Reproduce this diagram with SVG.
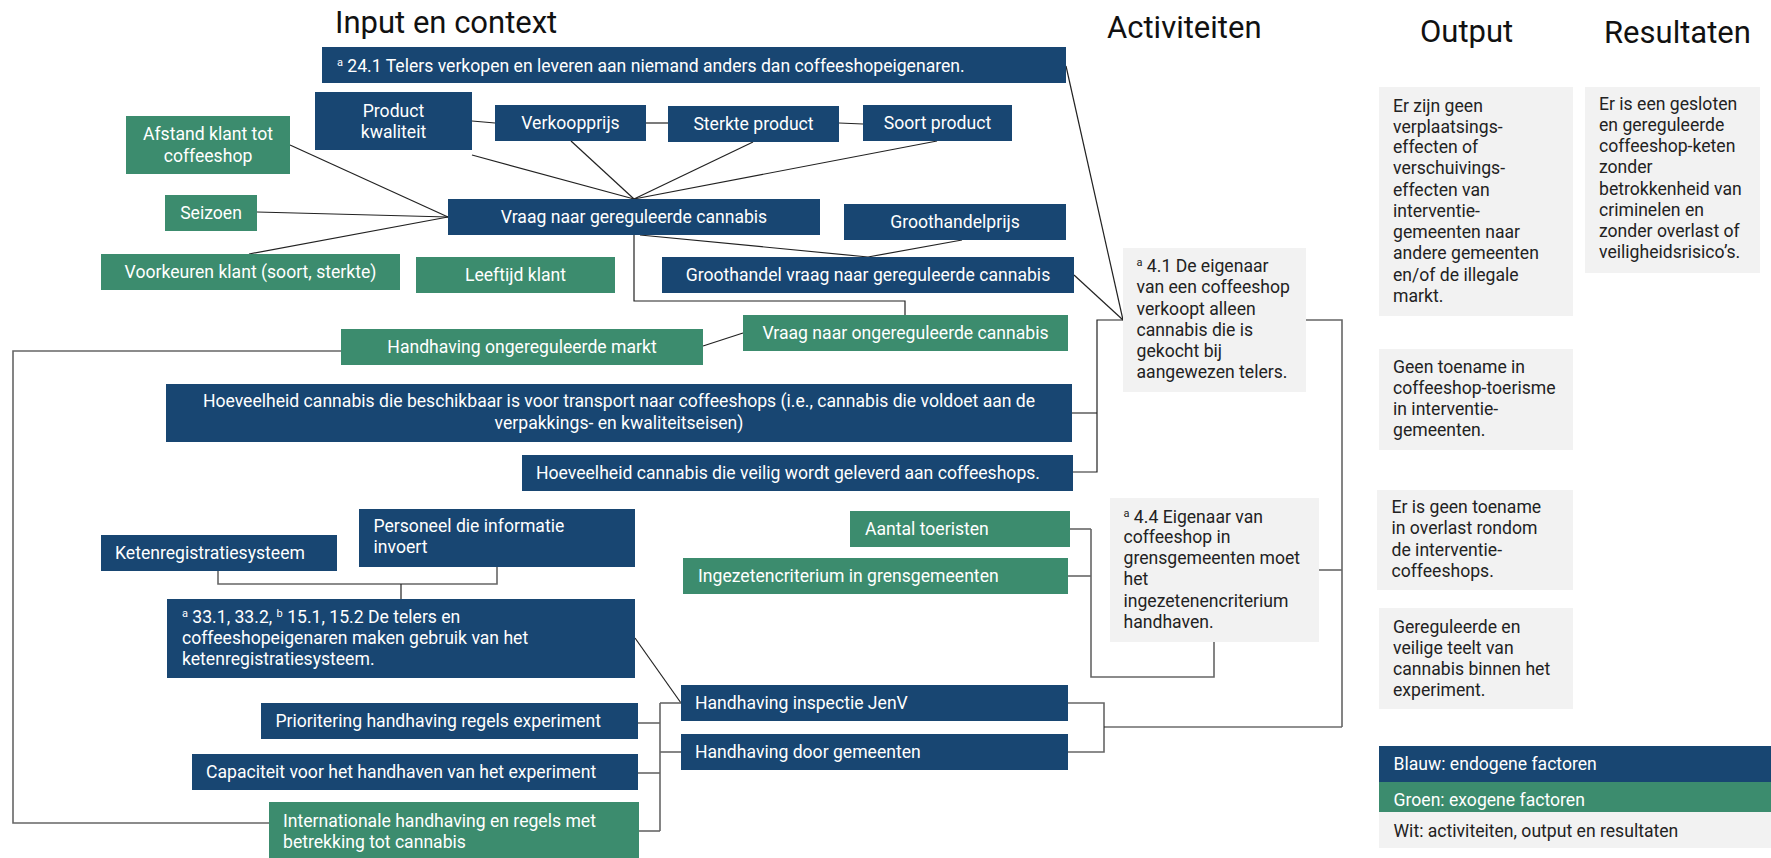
<svg xmlns="http://www.w3.org/2000/svg" width="1771" height="858" viewBox="0 0 1771 858">
<style>
text{font-family:Roboto,"Liberation Sans",Arial,sans-serif;font-size:17.6px}
.t{font-size:31px;fill:#111}
.b{fill:#184672}
.g{fill:#3c8c6e}
.w{fill:#f2f2f2}
.lt{fill:#fff}
.dk{fill:#222}
.c{text-anchor:middle}
.sup{font-size:11px}
.ln{fill:none;stroke:#222;stroke-width:1.2}
.br{fill:none;stroke:#666;stroke-width:1.6}
</style>
<rect width="1771" height="858" fill="#fff"/>
<g id="titles">
<text class="t" x="335" y="33">Input en context</text>
<text class="t" x="1107" y="38">Activiteiten</text>
<text class="t" x="1420" y="42">Output</text>
<text class="t" x="1604" y="43">Resultaten</text>
</g>
<g id="connectors">
<line class="ln" x1="472" y1="121" x2="495" y2="123"/>
<line class="ln" x1="646" y1="123" x2="668" y2="123"/>
<line class="ln" x1="839" y1="123" x2="863" y2="124"/>
<line class="ln" x1="472" y1="155" x2="634" y2="199"/>
<line class="ln" x1="571" y1="141" x2="634" y2="199"/>
<line class="ln" x1="753" y1="142" x2="634" y2="199"/>
<line class="ln" x1="937" y1="141" x2="634" y2="199"/>
<line class="ln" x1="290" y1="145" x2="448" y2="217"/>
<line class="ln" x1="257" y1="212" x2="448" y2="217"/>
<line class="ln" x1="249" y1="254" x2="448" y2="217"/>
<line class="ln" x1="640" y1="235" x2="868" y2="257"/>
<line class="ln" x1="962" y1="240" x2="868" y2="257"/>
<polyline class="ln" points="634,235 634,301 905,301 905,315"/>
<line class="ln" x1="703" y1="346" x2="743" y2="333"/>
<line class="ln" x1="1066" y1="66" x2="1123" y2="320"/>
<line class="ln" x1="1074" y1="275" x2="1123" y2="320"/>
<line class="ln" x1="635" y1="638" x2="681" y2="703"/>
<polyline class="br" points="341,351 13,351 13,823 269,823"/>
<polyline class="br" points="1072,413 1097,413"/>
<polyline class="ln" points="1073,472 1097,472 1097,320 1123,320"/>
<polyline class="br" points="218,571 218,584 497,584 497,567"/>
<line class="ln" x1="401" y1="584" x2="401" y2="599"/>
<line class="br" x1="660" y1="703" x2="660" y2="831"/>
<line class="br" x1="638" y1="723" x2="660" y2="723"/>
<line class="br" x1="638" y1="773" x2="660" y2="773"/>
<line class="br" x1="639" y1="831" x2="660" y2="831"/>
<line class="br" x1="660" y1="703" x2="681" y2="703"/>
<line class="br" x1="660" y1="752" x2="681" y2="752"/>
<polyline class="br" points="1068,703 1104,703 1104,752 1068,752"/>
<line class="ln" x1="1104" y1="727" x2="1342" y2="727"/>
<line class="br" x1="1070" y1="529" x2="1091" y2="529"/>
<line class="br" x1="1068" y1="576" x2="1091" y2="576"/>
<polyline class="br" points="1091,529 1091,677 1214,677 1214,642"/>
<polyline class="br" points="1306,320 1342,320 1342,727"/>
<line class="br" x1="1319" y1="570" x2="1342" y2="570"/>
</g>
<g id="n241"><rect class="b" x="322" y="47" width="744" height="36"/><text class="lt" x="337" y="72"><tspan class="sup" dy="-6">a</tspan><tspan dy="6"> 24.1 Telers verkopen en leveren aan niemand anders dan coffeeshopeigenaren.</tspan></text></g>
<g id="productkwaliteit"><rect class="b" x="315" y="92" width="157" height="58"/><text class="lt c" x="393.5" y="117">Product</text><text class="lt c" x="393.5" y="138">kwaliteit</text></g>
<g id="verkoopprijs"><rect class="b" x="495" y="105" width="151" height="36"/><text class="lt c" x="570.5" y="129">Verkoopprijs</text></g>
<g id="sterkte"><rect class="b" x="668" y="106" width="171" height="36"/><text class="lt c" x="753.5" y="130">Sterkte product</text></g>
<g id="soort"><rect class="b" x="863" y="105" width="149" height="36"/><text class="lt c" x="937.5" y="129">Soort product</text></g>
<g id="afstand"><rect class="g" x="126" y="116" width="164" height="58"/><text class="lt c" x="208" y="140">Afstand klant tot</text><text class="lt c" x="208" y="162">coffeeshop</text></g>
<g id="seizoen"><rect class="g" x="165" y="195" width="92" height="36"/><text class="lt c" x="211" y="219">Seizoen</text></g>
<g id="vraag"><rect class="b" x="448" y="199" width="372" height="36"/><text class="lt c" x="634" y="223">Vraag naar gereguleerde cannabis</text></g>
<g id="groothandelprijs"><rect class="b" x="844" y="204" width="222" height="36"/><text class="lt c" x="955" y="228">Groothandelprijs</text></g>
<g id="voorkeuren"><rect class="g" x="101" y="254" width="299" height="36"/><text class="lt c" x="250.5" y="278">Voorkeuren klant (soort, sterkte)</text></g>
<g id="leeftijd"><rect class="g" x="416" y="257" width="199" height="36"/><text class="lt c" x="515.5" y="281">Leeftijd klant</text></g>
<g id="groothandelvraag"><rect class="b" x="662" y="257" width="412" height="36"/><text class="lt c" x="868" y="281">Groothandel vraag naar gereguleerde cannabis</text></g>
<g id="vraagongereg"><rect class="g" x="743" y="315" width="325" height="36"/><text class="lt c" x="905.5" y="339">Vraag naar ongereguleerde cannabis</text></g>
<g id="handhavingongereg"><rect class="g" x="341" y="329" width="362" height="36"/><text class="lt c" x="522" y="353">Handhaving ongereguleerde markt</text></g>
<g id="beschikbaar"><rect class="b" x="166" y="384" width="906" height="58"/><text class="lt c" x="619" y="407">Hoeveelheid cannabis die beschikbaar is voor transport naar coffeeshops (i.e., cannabis die voldoet aan de</text><text class="lt c" x="619" y="429">verpakkings- en kwaliteitseisen)</text></g>
<g id="veilig"><rect class="b" x="522" y="455" width="551" height="36"/><text class="lt" x="536" y="479">Hoeveelheid cannabis die veilig wordt geleverd aan coffeeshops.</text></g>
<g id="personeel"><rect class="b" x="359" y="509" width="276" height="58"/><text class="lt" x="373.5" y="532">Personeel die informatie</text><text class="lt" x="373.5" y="553">invoert</text></g>
<g id="keten"><rect class="b" x="101" y="535" width="236" height="36"/><text class="lt" x="115" y="559">Ketenregistratiesysteem</text></g>
<g id="n331"><rect class="b" x="167" y="599" width="468" height="79"/><text class="lt" x="182" y="623"><tspan class="sup" dy="-6">a</tspan><tspan dy="6"> 33.1, 33.2, </tspan><tspan class="sup" dy="-6">b</tspan><tspan dy="6"> 15.1, 15.2 De telers en</tspan></text><text class="lt" x="182" y="644">coffeeshopeigenaren maken gebruik van het</text><text class="lt" x="182" y="665">ketenregistratiesysteem.</text></g>
<g id="prioritering"><rect class="b" x="261" y="703" width="377" height="36"/><text class="lt" x="275.5" y="727">Prioritering handhaving regels experiment</text></g>
<g id="capaciteit"><rect class="b" x="192" y="754" width="446" height="36"/><text class="lt" x="206" y="778">Capaciteit voor het handhaven van het experiment</text></g>
<g id="internationale"><rect class="g" x="269" y="802" width="370" height="56"/><text class="lt" x="283" y="827">Internationale handhaving en regels met</text><text class="lt" x="283" y="848">betrekking tot cannabis</text></g>
<g id="inspectie"><rect class="b" x="681" y="685" width="387" height="36"/><text class="lt" x="695" y="709">Handhaving inspectie JenV</text></g>
<g id="gemeenten"><rect class="b" x="681" y="734" width="387" height="36"/><text class="lt" x="695" y="758">Handhaving door gemeenten</text></g>
<g id="aantal"><rect class="g" x="850" y="511" width="220" height="36"/><text class="lt" x="865" y="535">Aantal toeristen</text></g>
<g id="ingezeten"><rect class="g" x="683" y="558" width="385" height="36"/><text class="lt" x="698" y="582">Ingezetencriterium in grensgemeenten</text></g>
<g id="a41"><rect class="w" x="1123" y="248" width="183" height="144"/><text class="dk" x="1136.5" y="272"><tspan class="sup" dy="-6">a</tspan><tspan dy="6"> 4.1 De eigenaar</tspan></text><text class="dk" x="1136.5" y="293">van een coffeeshop</text><text class="dk" x="1136.5" y="315">verkoopt alleen</text><text class="dk" x="1136.5" y="336">cannabis die is</text><text class="dk" x="1136.5" y="357">gekocht bij</text><text class="dk" x="1136.5" y="378">aangewezen telers.</text></g>
<g id="a44"><rect class="w" x="1110" y="498" width="209" height="144"/><text class="dk" x="1123.5" y="523"><tspan class="sup" dy="-6">a</tspan><tspan dy="6"> 4.4 Eigenaar van</tspan></text><text class="dk" x="1123.5" y="543">coffeeshop in</text><text class="dk" x="1123.5" y="564">grensgemeenten moet</text><text class="dk" x="1123.5" y="585">het</text><text class="dk" x="1123.5" y="607">ingezetenencriterium</text><text class="dk" x="1123.5" y="628">handhaven.</text></g>
<g id="out1"><rect class="w" x="1379" y="87" width="194" height="229"/><text class="dk" x="1393" y="112">Er zijn geen</text><text class="dk" x="1393" y="133">verplaatsings-</text><text class="dk" x="1393" y="153">effecten of</text><text class="dk" x="1393" y="174">verschuivings-</text><text class="dk" x="1393" y="196">effecten van</text><text class="dk" x="1393" y="217">interventie-</text><text class="dk" x="1393" y="238">gemeenten naar</text><text class="dk" x="1393" y="259">andere gemeenten</text><text class="dk" x="1393" y="281">en/of de illegale</text><text class="dk" x="1393" y="302">markt.</text></g>
<g id="out2"><rect class="w" x="1379" y="349" width="194" height="101"/><text class="dk" x="1393" y="373">Geen toename in</text><text class="dk" x="1393" y="394">coffeeshop-toerisme</text><text class="dk" x="1393" y="415">in interventie-</text><text class="dk" x="1393" y="436">gemeenten.</text></g>
<g id="out3"><rect class="w" x="1377" y="490" width="196" height="100"/><text class="dk" x="1391.5" y="513">Er is geen toename</text><text class="dk" x="1391.5" y="534">in overlast rondom</text><text class="dk" x="1391.5" y="556">de interventie-</text><text class="dk" x="1391.5" y="577">coffeeshops.</text></g>
<g id="out4"><rect class="w" x="1379" y="608" width="194" height="101"/><text class="dk" x="1393" y="633">Gereguleerde en</text><text class="dk" x="1393" y="654">veilige teelt van</text><text class="dk" x="1393" y="675">cannabis binnen het</text><text class="dk" x="1393" y="696">experiment.</text></g>
<g id="res"><rect class="w" x="1585" y="87" width="175" height="186"/><text class="dk" x="1599" y="110">Er is een gesloten</text><text class="dk" x="1599" y="131">en gereguleerde</text><text class="dk" x="1599" y="152">coffeeshop-keten</text><text class="dk" x="1599" y="173">zonder</text><text class="dk" x="1599" y="195">betrokkenheid van</text><text class="dk" x="1599" y="216">criminelen en</text><text class="dk" x="1599" y="237">zonder overlast of</text><text class="dk" x="1599" y="258">veiligheidsrisico’s.</text></g>
<g id="legend">
<rect class="b" x="1379" y="746" width="392" height="36"/><text class="lt" x="1393.5" y="770">Blauw: endogene factoren</text>
<rect class="g" x="1379" y="782" width="392" height="30"/><text class="lt" x="1393.5" y="806">Groen: exogene factoren</text>
<rect class="w" x="1379" y="812" width="392" height="36"/><text class="dk" x="1393.5" y="837">Wit: activiteiten, output en resultaten</text>
</g>
</svg>
